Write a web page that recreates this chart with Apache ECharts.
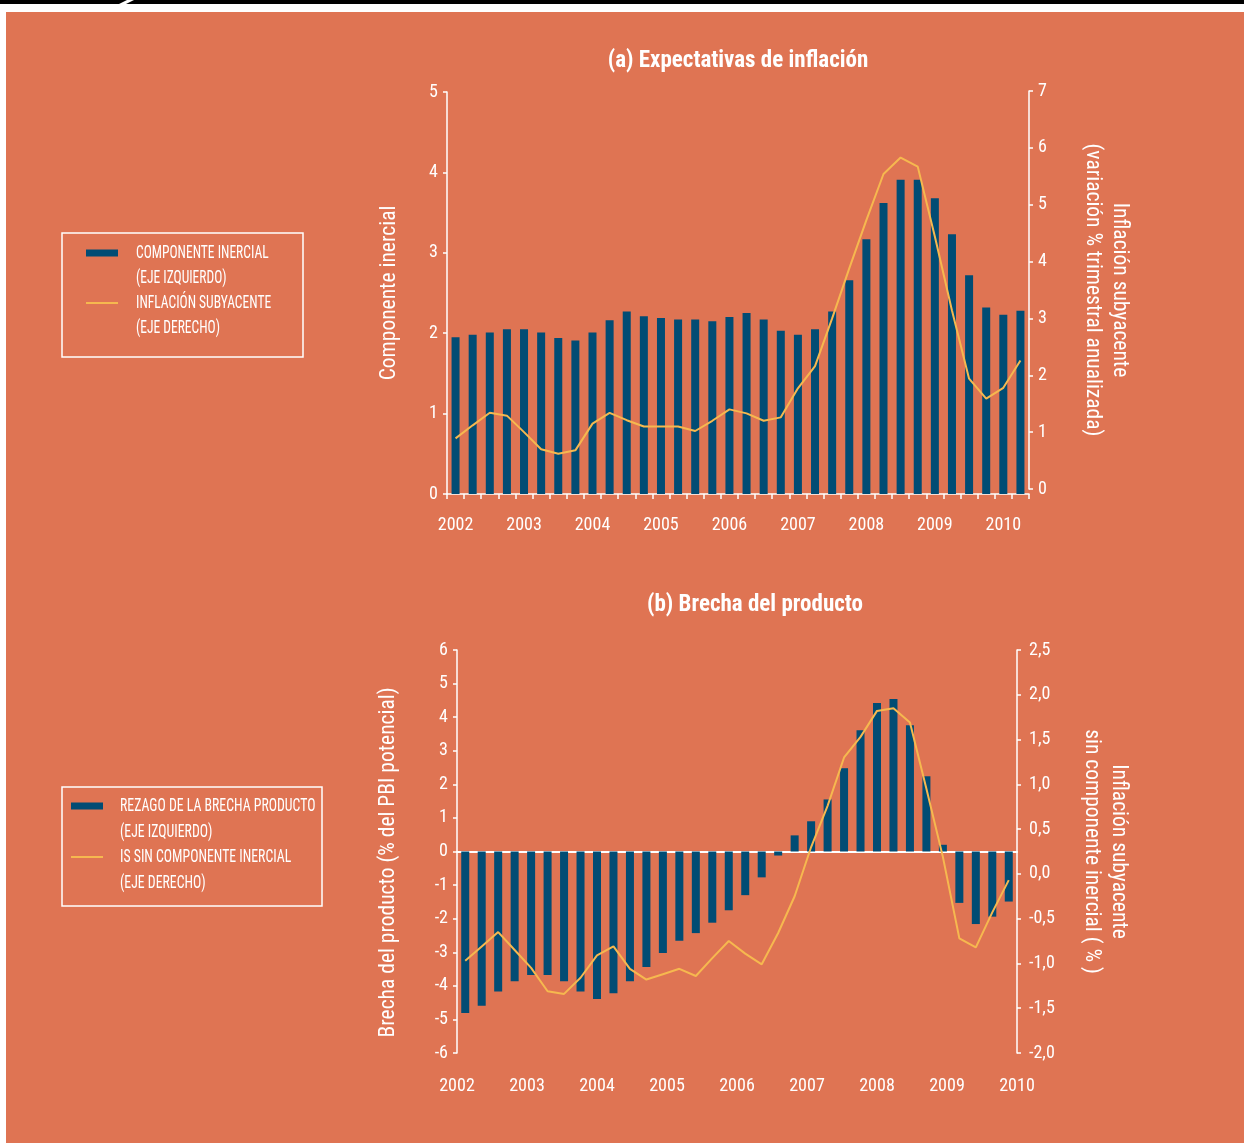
<!DOCTYPE html>
<html>
<head>
<meta charset="utf-8">
<script src="https://cdn.jsdelivr.net/npm/echarts@6/dist/echarts.min.js"></script>
<style>
html,body{margin:0;padding:0;background:#fff;}
#chart{width:1244px;height:1143px;}
</style>
</head>
<body>
<div id="chart"></div>
<script>
// ---- Data ----
const trimestres = [
  '2002-T1','2002-T2','2002-T3','2002-T4',
  '2003-T1','2003-T2','2003-T3','2003-T4',
  '2004-T1','2004-T2','2004-T3','2004-T4',
  '2005-T1','2005-T2','2005-T3','2005-T4',
  '2006-T1','2006-T2','2006-T3','2006-T4',
  '2007-T1','2007-T2','2007-T3','2007-T4',
  '2008-T1','2008-T2','2008-T3','2008-T4',
  '2009-T1','2009-T2','2009-T3','2009-T4',
  '2010-T1','2010-T2'
];
const anios = ['2002','2003','2004','2005','2006','2007','2008','2009','2010'];

// (a) Expectativas de inflación
const componenteInercial = [1.95,1.98,2.01,2.05,2.05,2.01,1.94,1.91,2.01,2.16,
  2.27,2.21,2.19,2.17,2.17,2.15,2.20,2.25,2.17,2.03,
  1.98,2.05,2.27,2.66,3.17,3.62,3.91,3.91,3.68,3.23,
  2.72,2.32,2.23,2.28];
const inflacionSubyacente = [0.89,1.12,1.34,1.29,1.00,0.70,0.62,0.68,1.15,1.34,
  1.21,1.10,1.10,1.10,1.02,1.20,1.40,1.33,1.20,1.26,
  1.77,2.16,3.00,3.88,4.73,5.54,5.83,5.67,4.44,3.14,
  1.94,1.59,1.78,2.26];

// (b) Brecha del producto
const rezagoBrecha = [-4.81,-4.59,-4.17,-3.86,-3.68,-3.68,-3.86,-4.17,-4.39,-4.22,
  -3.86,-3.44,-3.02,-2.66,-2.43,-2.12,-1.75,-1.30,-0.77,-0.12,
  0.48,0.90,1.55,2.48,3.61,4.42,4.54,3.76,2.24,0.20,
  -1.53,-2.16,-1.94,-1.49];
const isSinInercial = [-0.97,-0.81,-0.65,-0.85,-1.05,-1.31,-1.34,-1.16,-0.91,-0.81,
  -1.06,-1.18,-1.12,-1.06,-1.14,-0.94,-0.75,-0.89,-1.01,-0.66,
  -0.25,0.30,0.76,1.30,1.53,1.82,1.85,1.69,0.95,0.19,
  -0.72,-0.82,-0.43,-0.07];

// ---- Style ----
const FONT = '"Liberation Sans Narrow", "Roboto Condensed", "DejaVu Sans Condensed", "Arial Narrow", sans-serif';
const BG = '#DF7453';
const BLUE = '#014C74';
const YELLOW = '#F6B84F';
const WHITE = '#FFFFFF';

const axisLineW = {lineStyle:{color:WHITE, width:1.5}};
const tickW = {show:true, length:4, lineStyle:{color:WHITE, width:1.5}};
const lblW = (extra) => Object.assign({color:WHITE, fontSize:18, fontFamily:FONT}, extra||{});
const nameW = {color:WHITE, fontSize:21.5, fontFamily:FONT, lineHeight:27};

function comma(v){ return v.toFixed(1).replace('.', ','); }

const chart = echarts.init(document.getElementById('chart'), null, {renderer:'canvas'});

function legendGraphic(x, y, w, h, iconX, textX, lines, rowYs, sx){
  const els = [
    {type:'rect', shape:{x:x, y:y, width:w, height:h}, style:{fill:'none', stroke:WHITE, lineWidth:1.5}},
    {type:'rect', shape:{x:iconX, y:rowYs[0]-3.5, width:32, height:7}, style:{fill:BLUE}},
    {type:'line', shape:{x1:iconX, y1:rowYs[2], x2:iconX+32, y2:rowYs[2]}, style:{stroke:YELLOW, lineWidth:2}}
  ];
  lines.forEach((t, i) => {
    els.push({type:'text', x:textX, y:rowYs[i], scaleX:sx, style:{text:t, fill:WHITE, font:'18px ' + FONT, verticalAlign:'middle', align:'left'}});
  });
  return els;
}

const option = {
  backgroundColor: WHITE,
  animation: false,
  title: [
    {text:'(a) Expectativas de inflación', left:733, top:45, textAlign:'center',
     textStyle:{color:WHITE, fontSize:23, fontWeight:'bold', fontFamily:FONT}},
    {text:'(b) Brecha del producto', left:750, top:589, textAlign:'center',
     textStyle:{color:WHITE, fontSize:23, fontWeight:'bold', fontFamily:FONT}}
  ],
  grid: [
    {left:447, right:215, top:92, bottom:649},
    {left:447, right:215, top:91, bottom:654},
    {left:457, right:227, top:650, bottom:90}
  ],
  xAxis: [
    {gridIndex:0, type:'category', data:trimestres, boundaryGap:true,
     axisLine:axisLineW, axisTick:{show:true, interval:0, length:5, lineStyle:{color:WHITE, width:1.5}},
     axisLabel:lblW({interval:3, margin:22, formatter:(v)=>v.slice(0,4)}), splitLine:{show:false}},
    {gridIndex:1, type:'category', data:trimestres, boundaryGap:true, show:false},
    {gridIndex:2, type:'category', data:trimestres, boundaryGap:true,
     axisLine:{show:true, onZero:true, onZeroAxisIndex:2, lineStyle:{color:WHITE, width:2}},
     axisTick:{show:false}, axisLabel:{show:false}, splitLine:{show:false}},
    {gridIndex:2, type:'category', data:anios, boundaryGap:false, position:'bottom',
     axisLine:{show:false, onZero:false}, axisTick:{show:false},
     axisLabel:lblW({interval:0, margin:24}), splitLine:{show:false}}
  ],
  yAxis: [
    {gridIndex:0, type:'value', position:'left', min:0, max:5, interval:1,
     axisLine:Object.assign({show:true}, axisLineW), axisTick:tickW, splitLine:{show:false},
     axisLabel:lblW({margin:9}),
     name:'Componente inercial', nameLocation:'middle', nameRotate:90, nameGap:44, nameTextStyle:nameW},
    {gridIndex:1, type:'value', position:'right', min:0, max:7, interval:1,
     axisLine:Object.assign({show:true}, axisLineW), axisTick:tickW, splitLine:{show:false},
     axisLabel:lblW({margin:9}),
     name:'Inflación subyacente\n(variación % trimestral anualizada)', nameLocation:'middle', nameRotate:-90, nameGap:50, nameTextStyle:nameW},
    {gridIndex:2, type:'value', position:'left', min:-6, max:6, interval:1,
     axisLine:Object.assign({show:true}, axisLineW), axisTick:tickW, splitLine:{show:false},
     axisLabel:lblW({margin:9}),
     name:'Brecha del producto (% del PBI potencial)', nameLocation:'middle', nameRotate:90, nameGap:55,
     nameTextStyle:Object.assign({}, nameW, {padding:[0,22,0,0]})},
    {gridIndex:2, type:'value', position:'right', min:-2, max:2.5, interval:0.5,
     axisLine:Object.assign({show:true}, axisLineW), axisTick:tickW, splitLine:{show:false},
     axisLabel:lblW({margin:12, formatter:comma}),
     name:'Inflación subyacente\nsin componente inercial ( % )', nameLocation:'middle', nameRotate:-90, nameGap:61, nameTextStyle:nameW}
  ],
  series: [
    {name:'Componente inercial', type:'bar', xAxisIndex:0, yAxisIndex:0, data:componenteInercial,
     barWidth:8, itemStyle:{color:BLUE}},
    {name:'Inflación subyacente', type:'line', xAxisIndex:1, yAxisIndex:1, data:inflacionSubyacente,
     symbol:'none', lineStyle:{color:YELLOW, width:2}, itemStyle:{color:YELLOW}, z:3},
    {name:'Rezago de la brecha producto', type:'bar', xAxisIndex:2, yAxisIndex:2, data:rezagoBrecha,
     barWidth:8, itemStyle:{color:BLUE}},
    {name:'IS sin componente inercial', type:'line', xAxisIndex:2, yAxisIndex:3, data:isSinInercial,
     symbol:'none', lineStyle:{color:YELLOW, width:2}, itemStyle:{color:YELLOW}, z:3}
  ],
  graphic: [
    {type:'group', z:-10, silent:true, children:[
      {type:'rect', shape:{x:6, y:12, width:1238, height:1131}, style:{fill:BG}},
      {type:'rect', shape:{x:0, y:0, width:1244, height:4}, style:{fill:'#000'}},
      {type:'polygon', shape:{points:[[127,0],[134,0],[126,4],[119,4]]}, style:{fill:WHITE}}
    ]},
    {type:'group', silent:true, children: legendGraphic(62, 233, 241, 124, 86, 136,
      ['COMPONENTE INERCIAL','(EJE IZQUIERDO)','INFLACIÓN SUBYACENTE','(EJE DERECHO)'], [253,278,303,328], 0.75)},
    {type:'group', silent:true, children: legendGraphic(62, 787, 260, 119, 71, 120,
      ['REZAGO DE LA BRECHA PRODUCTO','(EJE IZQUIERDO)','IS SIN COMPONENTE INERCIAL','(EJE DERECHO)'], [806,832,857,883], 0.765)}
  ]
};
chart.setOption(option);
</script>
</body>
</html>
